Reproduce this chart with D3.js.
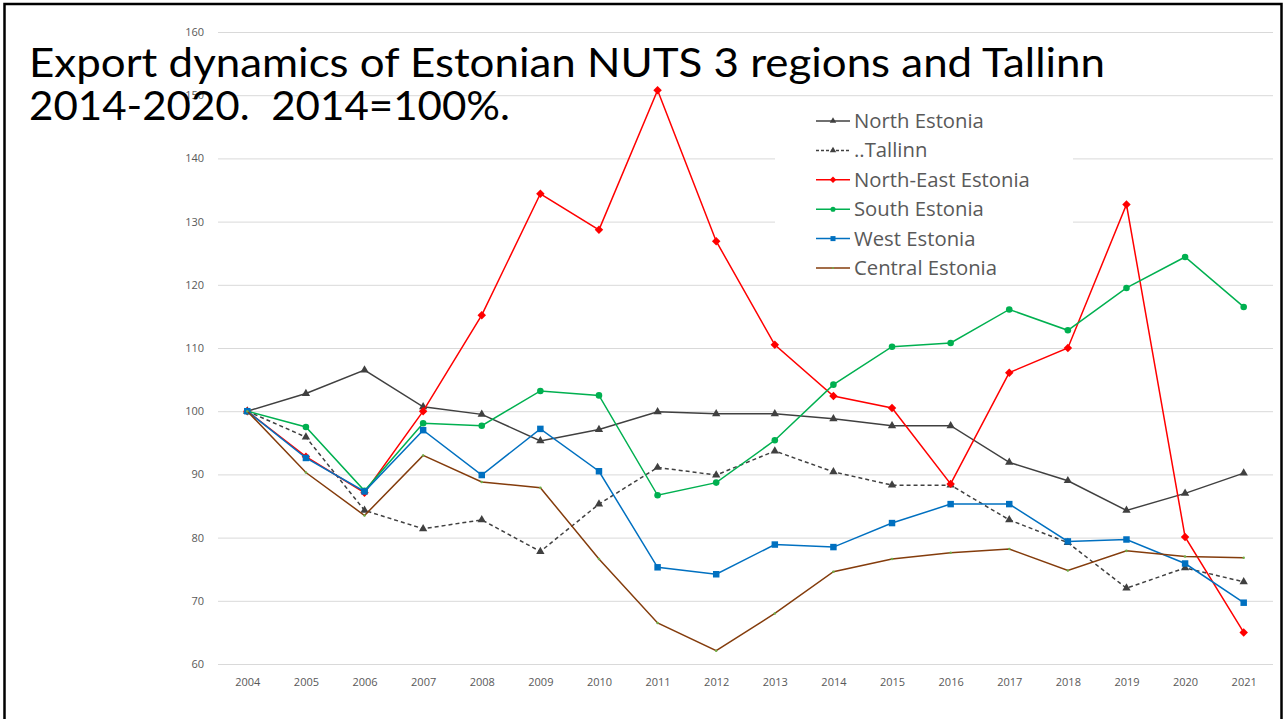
<!DOCTYPE html>
<html>
<head>
<meta charset="utf-8">
<script src="https://cdn.jsdelivr.net/npm/d3@7"></script>
<style>
  body { margin: 0; background: #fff; }
  svg { display: block; }
  .grid line { stroke: #d9d9d9; stroke-width: 1; }
  .tick text { fill: #595959; font-family: "Open Sans", sans-serif; font-size: 11px; }
</style>
</head>
<body>
<script>
//chart data
var years = ["2004","2005","2006","2007","2008","2009","2010","2011","2012","2013",
             "2014","2015","2016","2017","2018","2019","2020","2021"];

var northEstonia   = [100,102.8,106.5,100.7,99.5,95.3,97.1,99.9,99.6,99.6,98.8,97.7,97.7,91.9,89.0,84.3,87.0,90.2];
var tallinn        = [100,95.9,84.3,81.4,82.8,77.8,85.3,91.1,89.9,93.7,90.4,88.3,88.3,82.8,79.2,72.0,75.2,73.0];
var northEast      = [100,92.8,87.1,100,115.2,134.4,128.7,150.8,126.9,110.5,102.4,100.5,88.5,106.1,110.0,132.7,80.1,65.0];
var southEstonia   = [100,97.5,87.4,98.1,97.7,103.2,102.5,86.7,88.7,95.4,104.2,110.2,110.8,116.1,112.8,119.5,124.4,116.5];
var westEstonia    = [100,92.6,87.3,97.0,89.9,97.2,90.5,75.3,74.2,78.9,78.5,82.3,85.3,85.3,79.4,79.7,75.9,69.7];
var centralEstonia = [100,90.3,83.5,93.0,88.8,87.9,76.6,66.5,62.1,68.0,74.6,76.6,77.6,78.2,74.8,77.9,77.0,76.8];

var yTicks = [60,70,80,90,100,110,120,130,140,150,160];

var seriesNames = ["North Estonia","..Tallinn","North-East Estonia","South Estonia","West Estonia","Central Estonia"];
var seriesValues = [northEstonia, tallinn, northEast, southEstonia, westEstonia, centralEstonia];

//styles for each series (rot = rotate the marker, used for the diamond)
var styles = [
  {color:"#404040", dash:null,  symbol:d3.symbolTriangle, size:30, rot:0,  mcolor:"#404040"},
  {color:"#404040", dash:"4,3", symbol:d3.symbolTriangle, size:30, rot:0,  mcolor:"#404040"},
  {color:"#ff0000", dash:null,  symbol:d3.symbolSquare,   size:36, rot:45, mcolor:"#ff0000"},
  {color:"#00b050", dash:null,  symbol:d3.symbolCircle,   size:34, rot:0,  mcolor:"#00b050"},
  {color:"#0070c0", dash:null,  symbol:d3.symbolSquare,   size:42, rot:0,  mcolor:"#0070c0"},
  {color:"#843c0c", dash:null,  symbol:d3.symbolCircle,   size:5,  rot:0,  mcolor:"#70ad47"}
];

var width = 1284, height = 719;

var svg = d3.select("body").append("svg")
    .attr("width", width)
    .attr("height", height);

//scales
var x = d3.scalePoint()
    .domain(years)
    .range([218, 1273])
    .padding(0.5);

var y = d3.scaleLinear()
    .domain([60, 160])
    .range([664, 32]);

//gridlines
svg.append("g")
    .attr("class", "grid")
    .selectAll("line")
    .data(yTicks)
    .enter()
    .append("line")
    .attr("x1", 218)
    .attr("x2", 1273)
    .attr("y1", function(d){ return y(d) + 0.5; })
    .attr("y2", function(d){ return y(d) + 0.5; });

//y axis labels
var yAxis = svg.append("g")
    .attr("transform", "translate(206,0)")
    .call(d3.axisLeft(y).tickValues(yTicks).tickSize(0).tickPadding(2));
yAxis.select(".domain").remove();

//x axis labels
var xAxis = svg.append("g")
    .attr("transform", "translate(0,676)")
    .call(d3.axisBottom(x).tickSize(0).tickPadding(2));
xAxis.select(".domain").remove();

//legend background hides gridlines behind it
svg.append("rect")
    .attr("x", 775)
    .attr("y", 97)
    .attr("width", 298)
    .attr("height", 186)
    .attr("fill", "#fff");

//lines
var line = d3.line()
    .x(function(d, i){ return x(years[i]); })
    .y(function(d){ return y(d); });

seriesValues.forEach(function(vals, k){
  var s = styles[k];
  svg.append("path")
      .datum(vals)
      .attr("fill", "none")
      .attr("stroke", s.color)
      .attr("stroke-width", 1.5)
      .attr("stroke-dasharray", s.dash)
      .attr("d", line);

  svg.selectAll(".m" + k)
      .data(vals)
      .enter()
      .append("path")
      .attr("class", "m" + k)
      .attr("transform", function(d, i){
        return "translate(" + x(years[i]) + "," + y(d) + ") rotate(" + s.rot + ")";
      })
      .attr("d", d3.symbol().type(s.symbol).size(s.size))
      .attr("fill", s.mcolor);
});

//legend
var legend = svg.selectAll(".legendItem")
    .data(seriesNames)
    .enter()
    .append("g")
    .attr("class", "legendItem")
    .attr("transform", function(d, i){ return "translate(816," + (121 + i * 29.4) + ")"; });

legend.append("line")
    .attr("x1", 0).attr("x2", 34)
    .attr("stroke", function(d, i){ return styles[i].color; })
    .attr("stroke-width", 1.5)
    .attr("stroke-dasharray", function(d, i){ return styles[i].dash ? "3,2" : null; });

legend.append("path")
    .attr("transform", function(d, i){ return "translate(17,0) rotate(" + styles[i].rot + ")"; })
    .attr("d", function(d, i){ return d3.symbol().type(styles[i].symbol).size(styles[i].size * 0.6)(); })
    .attr("fill", function(d, i){ return styles[i].mcolor; });

legend.append("text")
    .attr("x", 38)
    .attr("y", 7)
    .attr("fill", "#595959")
    .style("font-family", "'Open Sans', sans-serif")
    .style("font-size", "20.3px")
    .text(function(d){ return d; });

//title
var titleLines = ["Export dynamics of Estonian NUTS 3 regions and Tallinn", "2014-2020.  2014=100%."];
var titleWidths = [1076, 481];
svg.selectAll(".title")
    .data(titleLines)
    .enter()
    .append("text")
    .attr("class", "title")
    .attr("x", 29)
    .attr("y", function(d, i){ return 77 + i * 43; })
    .attr("textLength", function(d, i){ return titleWidths[i]; })
    .attr("lengthAdjust", "spacingAndGlyphs")
    .style("white-space", "pre")
    .attr("fill", "#000")
    .style("font-family", "Lato, sans-serif")
    .style("font-size", "40px")
    .text(function(d){ return d; });

//slide frame
svg.append("rect")
    .attr("x", 4.5)
    .attr("y", 4)
    .attr("width", 1277)
    .attr("height", 740)
    .attr("fill", "none")
    .attr("stroke", "#000")
    .attr("stroke-width", 2.5);
</script>
</body>
</html>
